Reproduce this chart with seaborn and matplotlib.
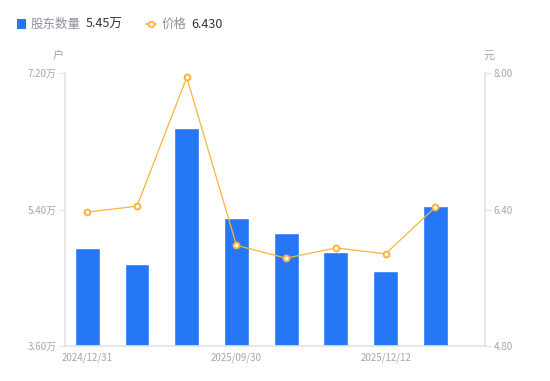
import numpy as np
import pandas as pd
import seaborn as sns
import matplotlib.pyplot as plt
from matplotlib.patches import Rectangle
from matplotlib.lines import Line2D

# data
dates = ["2024/12/31", "2025/03/31", "2025/06/30", "2025/09/30",
         "2025/10/31", "2025/11/20", "2025/12/12", "2025/12/31"]
holders = [4.89, 4.68, 6.48, 5.29, 5.09, 4.84, 4.59, 5.45]   # 万户
price = [6.37, 6.44, 7.95, 5.98, 5.83, 5.95, 5.88, 6.43]      # 元
shown_labels = {0: "2024/12/31", 3: "2025/09/30", 6: "2025/12/12"}

blue = "#2577F5"
orange = "#F9B43C"
gray = "#A3A6B2"
axis_gray = "#E3E4E8"

sns.set_theme(style="white")
plt.rcParams['font.family'] = ['Noto Sans CJK SC', 'DejaVu Sans']

df = pd.DataFrame({"date": dates, "holders": holders, "price": price})

fig = plt.figure(figsize=(5.5, 3.81), dpi=100)
ax = fig.add_axes([0.118, 0.092, 0.764, 0.716])
sns.barplot(data=df, x="date", y="holders", color=blue, saturation=1,
            width=0.5, ax=ax)
ax.set_ylim(3.6, 7.2)
ax.set_xlim(-0.45, 8.0)
ax.set_yticks([3.6, 5.4, 7.2])
ax.set_yticklabels(["3.60万", "5.40万", "7.20万"])
ax.set_xticks(list(shown_labels.keys()))
ax.set_xticklabels(list(shown_labels.values()))
ax.set_xlabel("")
ax.set_ylabel("")

ax2 = ax.twinx()
ax2.plot(range(len(price)), price, color=orange, lw=0.9, marker="o",
         markersize=4.2, markerfacecolor="white", markeredgecolor=orange,
         markeredgewidth=1.4, zorder=5)
ax2.set_ylim(4.8, 8.0)
ax2.set_yticks([4.8, 6.4, 8.0])
ax2.set_yticklabels(["4.80", "6.40", "8.00"])

for a in (ax, ax2):
    for s in a.spines.values():
        s.set_visible(False)
    a.tick_params(axis="y", colors=axis_gray, labelcolor=gray, labelsize=7,
                  length=4, width=0.8, pad=2)
ax.spines["left"].set_visible(True)
ax.spines["left"].set_color(axis_gray)
ax.spines["bottom"].set_visible(True)
ax.spines["bottom"].set_color(axis_gray)
ax2.spines["right"].set_visible(True)
ax2.spines["right"].set_color(axis_gray)
ax.tick_params(axis="x", length=0, labelcolor=gray, labelsize=7, pad=5)
ax.grid(False)
ax2.grid(False)

# unit labels
fig.text(0.105, 0.84, "户", color=gray, fontsize=8, ha="center", va="bottom")
fig.text(0.889, 0.84, "元", color=gray, fontsize=8, ha="center", va="bottom")

# legend row
fig.patches.append(Rectangle((0.031, 0.925), 0.017, 0.025, transform=fig.transFigure,
                             facecolor=blue, edgecolor="none"))
fig.text(0.056, 0.937, "股东数量", color="#8E919C", fontsize=9, va="center")
fig.text(0.155, 0.937, "5.45万", color="#333333", fontsize=9, va="center")
fig.lines.append(Line2D([0.265, 0.284], [0.937, 0.937], transform=fig.transFigure,
                        color=orange, lw=1.2))
fig.lines.append(Line2D([0.2745], [0.937], transform=fig.transFigure, marker="o",
                        markersize=4, markerfacecolor="white", markeredgecolor=orange,
                        markeredgewidth=1.3))
fig.text(0.293, 0.937, "价格", color="#8E919C", fontsize=9, va="center")
fig.text(0.348, 0.937, "6.430", color="#333333", fontsize=9, va="center")

fig.savefig("out.png", dpi=100)
